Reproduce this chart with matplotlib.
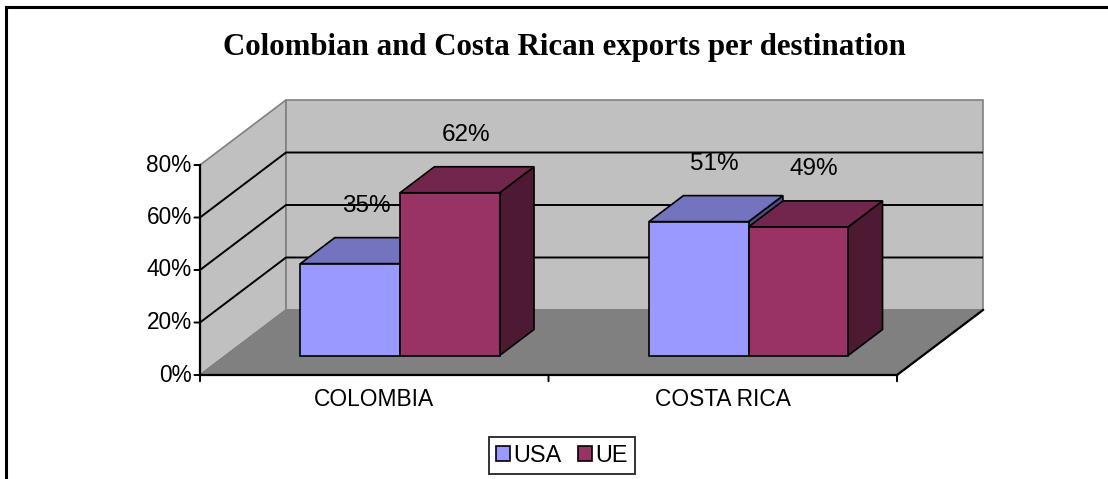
import matplotlib
matplotlib.use("Agg")
import matplotlib.pyplot as plt
from matplotlib.patches import Polygon, Patch
from matplotlib.lines import Line2D

# ---- data ----
categories = ["COLOMBIA", "COSTA RICA"]
series_names = ["USA", "UE"]
usa_values = [35, 51]
ue_values = [62, 49]
y_ticks = [0, 20, 40, 60, 80]
y_tick_labels = ["0%", "20%", "40%", "60%", "80%"]
label_texts_usa = ["35%", "51%"]
label_texts_ue = ["62%", "49%"]
title = "Colombian and Costa Rican exports per destination"

# ---- style ----
W, H, DPI = 1108, 479, 100
front_cols = ["#9999FF", "#993366"]
top_cols = ["#7373C0", "#73264D"]
side_cols = ["#4D4D80", "#4D1933"]
wall_col = "#C0C0C0"
floor_col = "#808080"
edge_gray = "#808080"

fig = plt.figure(figsize=(W / DPI, H / DPI), dpi=DPI)
ax = fig.add_axes([0, 0, 1, 1])
ax.set_axis_off()

# front plane: x 0..2 -> px 200..897 ; y 0..80 -> px 375..165
px_per_x = (897 - 200) / 2.0
px_per_y = (375 - 165) / 80.0
ax.set_xlim(-200 / px_per_x, (W - 200) / px_per_x)
ax.set_ylim(-(H - 375) / px_per_y, 375 / px_per_y)

DX = 86 / px_per_x
DY = 65 / px_per_y
ymax = y_ticks[-1]
ncat = len(categories)


def P(x, y, d):
    return (x + d * DX, y + d * DY)


# walls and floor
ax.add_patch(Polygon([P(0, 0, 0), P(0, 0, 1), P(0, ymax, 1), P(0, ymax, 0)],
                     closed=True, fc=wall_col, ec=edge_gray, lw=1.2, zorder=1))
ax.add_patch(Polygon([P(0, 0, 1), P(ncat, 0, 1), P(ncat, ymax, 1), P(0, ymax, 1)],
                     closed=True, fc=wall_col, ec=edge_gray, lw=1.2, zorder=1))
ax.add_patch(Polygon([P(0, 0, 0), P(ncat, 0, 0), P(ncat, 0, 1), P(0, 0, 1)],
                     closed=True, fc=floor_col, ec=edge_gray, lw=1.2, zorder=2))

# gridlines
for g in y_ticks[1:-1]:
    xs, ys = zip(P(0, g, 0), P(0, g, 1), P(ncat, g, 1))
    ax.plot(xs, ys, color="black", lw=1.4, zorder=1.5, solid_capstyle="butt")

# axes lines
ax.plot(*zip(P(0, 0, 0), P(0, ymax, 0)), color="black", lw=1.6, zorder=3)
ax.plot(*zip(P(0, 0, 0), P(ncat, 0, 0), P(ncat, 0, 1)), color="black", lw=1.6, zorder=3)

# y ticks & labels
for g, lab in zip(y_ticks, y_tick_labels):
    ax.annotate("", xy=P(0, g, 0), xytext=(-4, 0), textcoords="offset points",
                arrowprops=dict(arrowstyle="-", color="black", lw=1.4, shrinkA=0, shrinkB=0))
    ax.annotate(lab, xy=P(0, g, 0), xytext=(-6, 0), textcoords="offset points",
                ha="right", va="center", fontsize=16.3, family="Liberation Sans")

# x ticks & labels
for i in range(ncat + 1):
    ax.annotate("", xy=P(i, 0, 0), xytext=(0, -4.5), textcoords="offset points",
                arrowprops=dict(arrowstyle="-", color="black", lw=1.4, shrinkA=0, shrinkB=0))
for i, c in enumerate(categories):
    ax.annotate(c, xy=P(i + 0.5, 0, 0), xytext=(0, -18), textcoords="offset points",
                ha="center", va="center", fontsize=16.4, family="Liberation Sans")

# bars
nser = len(series_names)
bw = 1.0 / (nser + 1.5)
d0, d1 = 0.3, 0.7
all_vals = [usa_values, ue_values]
all_labels = [label_texts_usa, label_texts_ue]
z = 5
for i in range(ncat):
    for s in range(nser):
        v = all_vals[s][i]
        x0 = i + 0.5 - nser * bw / 2 + s * bw
        x1 = x0 + bw
        side = [P(x1, 0, d0), P(x1, 0, d1), P(x1, v, d1), P(x1, v, d0)]
        top = [P(x0, v, d0), P(x1, v, d0), P(x1, v, d1), P(x0, v, d1)]
        front = [P(x0, 0, d0), P(x1, 0, d0), P(x1, v, d0), P(x0, v, d0)]
        for poly, col in ((side, side_cols[s]), (top, top_cols[s]), (front, front_cols[s])):
            ax.add_patch(Polygon(poly, closed=True, fc=col, ec="black", lw=1.2,
                                 joinstyle="miter", zorder=z))
            z += 0.1
        ax.annotate(all_labels[s][i], xy=P((x0 + x1) / 2, v, 0.5), xytext=(-1, 32),
                    textcoords="offset points", ha="center", va="center",
                    fontsize=17.5, family="Liberation Sans", zorder=20)

# title
fig.text(564 / W, 1 - 48 / H, title, ha="center", va="center",
         fontsize=22.2, fontweight="bold", family="Liberation Serif")

# legend
handles = [Patch(fc=front_cols[k], ec="black", lw=1.2) for k in range(nser)]
leg = fig.legend(handles, series_names, loc="center", bbox_to_anchor=(562 / W, 1 - 455.5 / H),
                 ncol=nser, frameon=True, fancybox=False,
                 prop={"family": "Liberation Sans", "size": 16.8},
                 handlelength=0.6, handleheight=0.6, handletextpad=0.15,
                 columnspacing=0.7, borderpad=0.3, borderaxespad=0)
leg.get_frame().set_edgecolor("black")
leg.get_frame().set_linewidth(1.4)

# chart border (top and left)
fig.add_artist(Line2D([6 / W, 1], [1 - 7 / H, 1 - 7 / H], color="black", lw=2.2,
                      transform=fig.transFigure))
fig.add_artist(Line2D([6 / W, 6 / W], [0, 1 - 7 / H], color="black", lw=2.2,
                      transform=fig.transFigure))

fig.savefig("out.png", dpi=DPI)
